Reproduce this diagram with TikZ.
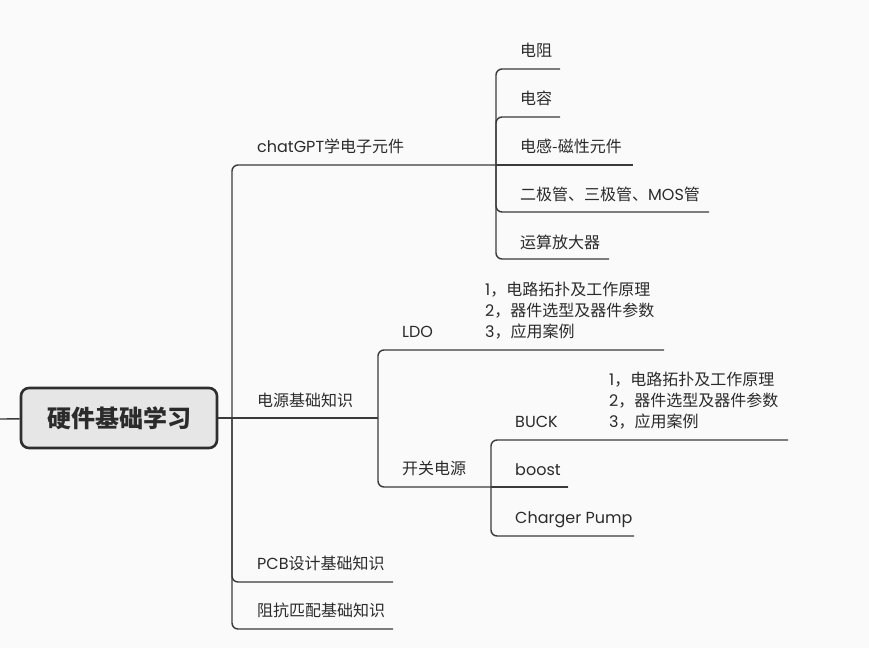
\documentclass[tikz,border=0pt]{standalone}
\usepackage{fontspec}
\setmainfont{Noto Sans CJK SC}
\newfontfamily\lat{Poppins}
\usepackage{xcolor}
\usepackage{tikz}

\definecolor{linegray}{HTML}{3A3A3A}
\definecolor{txtgray}{HTML}{2B2B2B}
\definecolor{rootfill}{HTML}{E6E6E6}
\definecolor{paper}{HTML}{FAFAFA}

\begin{document}
\begin{tikzpicture}[
    x=1pt, y=-1pt,
    topic/.style={anchor=base west, inner sep=0pt, text=txtgray, font=\fontsize{16}{21}\selectfont},
    note/.style={anchor=west, inner sep=0pt, align=left, text=txtgray, font=\fontsize{16}{21}\selectfont},
    rootbox/.style={rectangle, draw=linegray!80!black, fill=rootfill, line width=2.6pt, rounded corners=8pt, minimum width=196pt, minimum height=60pt, text=txtgray, font=\fontsize{24}{28}\selectfont\bfseries},
    branch/.style={draw=linegray, line width=1.4pt, rounded corners=6pt}
]
\fill[paper] (0,0) rectangle (869,648);
\useasboundingbox (0,0) rectangle (869,648);

% Root
\node[rootbox] (root) at (119,418) {硬件基础学习};
\coordinate (stub) at (0,419);
\coordinate (j0) at (232,418);

% Line ends / junctions
\coordinate (cg) at (496,165);
\coordinate (pw) at (378,418);
\coordinate (pcb) at (393,582);
\coordinate (imp) at (393,629);
\coordinate (res) at (560,69);
\coordinate (cap) at (560,117);
\coordinate (ind) at (633,165);
\coordinate (dio) at (709,212);
\coordinate (opa) at (609,259);
\coordinate (ldo) at (664,350);
\coordinate (sw) at (491,487);
\coordinate (sw-end) at (568,487);
\coordinate (buck) at (788,440);
\coordinate (boost) at (568,487);
\coordinate (pump) at (634,536);

% Level 1
\node[topic] (cg-t) at (257,152) {{\lat chatGPT}学电子元件};
\node[topic] (pw-t) at (257,406) {电源基础知识};
\node[topic] (pcb-t) at (257,569) {{\lat PCB}设计基础知识};
\node[topic] (imp-t) at (257,616) {阻抗匹配基础知识};

% Components
\node[topic] (res-t) at (520,56) {电阻};
\node[topic] (cap-t) at (520,104) {电容};
\node[topic] (ind-t) at (520,152) {电感-磁性元件};
\node[topic] (dio-t) at (520,200) {二极管、三极管、{\lat MOS}管};
\node[topic] (opa-t) at (520,248) {运算放大器};

% Power
\node[topic] (ldo-t) at (402,337) {{\lat LDO}};
\node[note] (ldo-n) at (485,311) {{\lat 1}，电路拓扑及工作原理\\{\lat 2}，器件选型及器件参数\\{\lat 3}，应用案例};
\node[topic] (sw-t) at (402,474) {开关电源};
\node[topic] (buck-t) at (515,427) {{\lat BUCK}};
\node[note] (buck-n) at (609,401) {{\lat 1}，电路拓扑及工作原理\\{\lat 2}，器件选型及器件参数\\{\lat 3}，应用案例};
\node[topic] (boost-t) at (515,475) {{\lat boost}};
\node[topic] (pump-t) at (515,523) {{\lat Charger Pump}};

% Connectors
\draw[branch] (stub) -- (root);
\draw[branch] (root) -- (pw);
\draw[branch] (j0) |- (cg);
\draw[branch] (j0) |- (pcb);
\draw[branch] (j0) |- (imp);

\draw[branch] (cg) |- (res);
\draw[branch] (cg) |- (cap);
\draw[branch] (cg) -- (ind);
\draw[branch] (cg) |- (dio);
\draw[branch] (cg) |- (opa);

\draw[branch] (pw) |- (ldo);
\draw[branch] (pw) |- (sw-end);
\draw[branch] (sw) |- (buck);
\draw[branch] (sw) -- (boost);
\draw[branch] (sw) |- (pump);

\end{tikzpicture}
\end{document}
